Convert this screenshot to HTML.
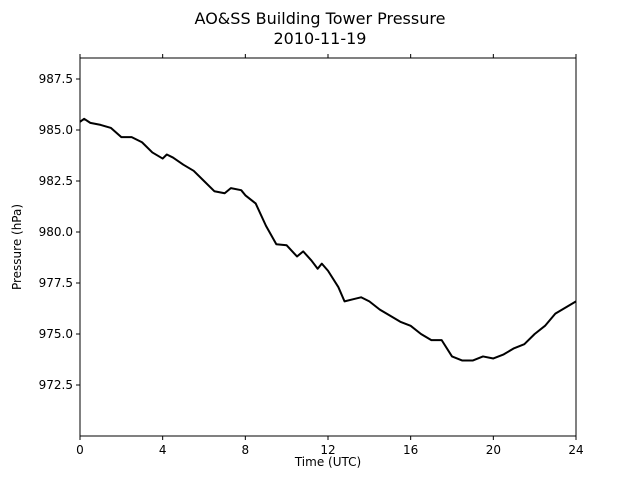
<!DOCTYPE html>
<html><head><meta charset="utf-8"><style>
body{margin:0;background:#fff}
svg text{font-family:"DejaVu Sans","Liberation Sans",sans-serif;fill:#000}
</style></head><body>
<svg id="chart" width="640" height="480">
<text x="320" y="24" font-size="16" text-anchor="middle">AO&amp;SS Building Tower Pressure</text>
<text x="320" y="44" font-size="16" text-anchor="middle">2010-11-19</text>
<g id="axes"></g>
<text x="328" y="466" font-size="12" text-anchor="middle">Time (UTC)</text>
<text x="21" y="247" font-size="12" text-anchor="middle" transform="rotate(-90 21 247)">Pressure (hPa)</text>
</svg>
<script>
const hours=[0,0.2,0.5,1,1.5,2,2.5,3,3.5,4,4.2,4.5,5,5.5,6,6.5,7,7.3,7.8,8,8.5,9,9.5,10,10.5,10.8,11.2,11.5,11.7,12,12.5,12.8,13.2,13.6,14,14.5,15,15.5,16,16.5,17,17.5,18,18.5,19,19.5,20,20.5,21,21.5,22,22.5,23,23.5,24];
const pressure=[985.4,985.55,985.35,985.25,985.1,984.65,984.65,984.4,983.9,983.6,983.8,983.65,983.3,983.0,982.5,982.0,981.9,982.15,982.05,981.8,981.4,980.3,979.4,979.35,978.8,979.05,978.6,978.2,978.45,978.1,977.3,976.6,976.7,976.8,976.6,976.2,975.9,975.6,975.4,975.0,974.7,974.7,973.9,973.7,973.7,973.9,973.8,974.0,974.3,974.5,975.0,975.4,976.0,976.3,976.6];
const xTicks=[0,4,8,12,16,20,24];
const yTicks=[972.5,975.0,977.5,980.0,982.5,985.0,987.5];
const L=80,R=576,T=58,B=436,xmin=0,xmax=24,ymin=970,ymax=988.53;
const xs=v=>L+(v-xmin)/(xmax-xmin)*(R-L);
const ys=v=>B-(v-ymin)/(ymax-ymin)*(B-T);
const NS="http://www.w3.org/2000/svg";
const g=document.getElementById('axes');
function mk(t,a){const e=document.createElementNS(NS,t);for(const k in a)e.setAttribute(k,a[k]);g.appendChild(e);return e;}
const line=mk('polyline',{points:hours.map((h,i)=>xs(h)+','+ys(pressure[i])).join(' '),fill:'none',stroke:'#000','stroke-width':2,'stroke-linejoin':'round'});


const frame=mk('rect',{x:L,y:T,width:R-L,height:B-T,fill:'none',stroke:'#000','stroke-width':1});


xTicks.forEach(v=>{
 const x=xs(v);
 mk('line',{x1:x,x2:x,y1:B,y2:B+4,stroke:'#000'});
 mk('line',{x1:x,x2:x,y1:T,y2:T-4,stroke:'#000'});
 const t=mk('text',{x:x,y:B+18,'font-size':12,'text-anchor':'middle'});
 t.textContent=v;
 
 
});
yTicks.forEach(v=>{
 const y=ys(v);
 mk('line',{x1:L,x2:L-4,y1:y,y2:y,stroke:'#000'});
 const t=mk('text',{x:L-7,y:y+4,'font-size':12,'text-anchor':'end'});
 t.textContent=v.toFixed(1);
 
 
});
</script>
</body></html>
